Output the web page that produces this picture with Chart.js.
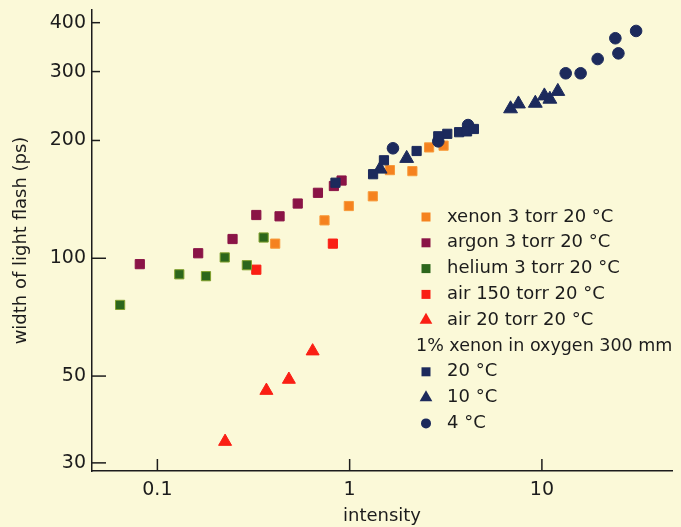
<!DOCTYPE html>
<html lang="en">
<head>
  <meta charset="UTF-8">
  <title>Width of light flash vs intensity</title>
  <style>
    body { margin: 0; background: #fbf9d8; }
    .wrap { width: 681px; height: 527px; background: #fbf9d8; }
  </style>
</head>
<body>
  <div class="wrap">
    <canvas id="myChart"></canvas>
  </div>

  <script src="https://cdn.jsdelivr.net/npm/chart.js@4.4.0/dist/chart.umd.min.js"></script>
  <script>
    // axis ticks
    const xTicks = [0.1, 1, 10];
    const yTicks = [30, 50, 100, 200, 300, 400];

    // series: intensity (x) and width of light flash in ps (y)
    const xenonX = [0.41, 0.74, 0.99, 1.32, 1.62, 2.12, 2.59, 3.08];
    const xenonY = [109, 125, 136, 144, 168, 167, 192, 194];

    const argonX = [0.081, 0.163, 0.246, 0.327, 0.432, 0.537, 0.684, 0.828, 0.908];
    const argonY = [96.6, 103, 112, 129, 128, 138, 147, 153, 158];

    const heliumX = [0.064, 0.130, 0.179, 0.224, 0.292, 0.357];
    const heliumY = [76, 91, 90, 100.5, 96, 113];

    const air150X = [0.327, 0.818];
    const air150Y = [93.5, 109];

    const air20X = [0.225, 0.369, 0.483, 0.642];
    const air20Y = [34.0, 45.9, 49.0, 57.9];

    const ox20X = [0.844, 1.324, 1.508, 2.23, 2.89, 3.22, 3.71, 4.08, 4.43];
    const ox20Y = [156, 164, 178, 188, 205, 208, 210, 211, 214];

    const ox10X = [1.44, 1.98, 6.87, 7.55, 9.24, 10.3, 11.0, 12.1];
    const ox10Y = [169, 180, 241, 248, 249, 260, 255, 267];

    const ox4X = [1.68, 2.89, 4.13, 13.3, 15.9, 19.5, 24.1, 25.0, 30.9];
    const ox4Y = [191, 199, 219, 297, 297, 323, 365, 334, 381];

    const legendHeader = '1% xenon in oxygen 300 mm';

    const pts = (xs, ys) => xs.map((x, i) => ({ x: x, y: ys[i] }));

    const FONT = '"DejaVu Sans", sans-serif';
    const INK = '#1c1c1c';

    function series(label, xs, ys, color, style, radius, order, border) {
      return {
        label: label,
        data: pts(xs, ys),
        backgroundColor: color,
        borderColor: border || color,
        borderWidth: 1,
        pointStyle: style,
        pointRadius: radius,
        pointHoverRadius: radius,
        order: order
      };
    }

    const datasets = [
      series('xenon 3 torr 20 °C', xenonX, xenonY, '#f5821f', 'rect', 6.5, 2, '#f79a3a'),
      series('argon 3 torr 20 °C', argonX, argonY, '#8a1446', 'rect', 6.5, 2),
      series('helium 3 torr 20 °C', heliumX, heliumY, '#2c661c', 'rect', 6.5, 2, '#7f9f2c'),
      series('air 150 torr 20 °C', air150X, air150Y, '#fa1f14', 'rect', 6.5, 2),
      series('air 20 torr 20 °C', air20X, air20Y, '#fa1f14', 'triangle', 7.5, 2),
      series('20 °C', ox20X, ox20Y, '#1c2a5c', 'rect', 6.5, 0),
      series('10 °C', ox10X, ox10Y, '#1c2a5c', 'triangle', 8, 0),
      series('4 °C', ox4X, ox4Y, '#1c2a5c', 'circle', 5.8, 0)
    ];

    // draws a marker in the same shape as the chart points
    function marker(ctx, style, color, x, y, size) {
      ctx.fillStyle = color;
      ctx.beginPath();
      if (style === 'rect') {
        ctx.rect(x - size / 2, y - size / 2, size, size);
      } else if (style === 'triangle') {
        const r = size / 1.5;
        ctx.moveTo(x, y - r);
        ctx.lineTo(x + r * 0.866, y + r / 2);
        ctx.lineTo(x - r * 0.866, y + r / 2);
        ctx.closePath();
      } else {
        ctx.arc(x, y, size / 2, 0, Math.PI * 2);
      }
      ctx.fill();
    }

    // inward tick marks + the legend block inside the plot
    const extras = {
      id: 'extras',
      afterDraw(chart) {
        const ctx = chart.ctx;
        const xs = chart.scales.x, ys = chart.scales.y;
        ctx.save();
        ctx.strokeStyle = INK;
        ctx.lineWidth = 1.5;
        xTicks.forEach(v => {
          const px = xs.getPixelForValue(v);
          ctx.beginPath();
          ctx.moveTo(px, xs.top);
          ctx.lineTo(px, xs.top - 12);
          ctx.stroke();
        });
        yTicks.forEach(v => {
          const py = ys.getPixelForValue(v);
          const len = v >= 200 ? 8 : 14;
          ctx.beginPath();
          ctx.moveTo(ys.right, py);
          ctx.lineTo(ys.right + len, py);
          ctx.stroke();
        });

        // legend
        const lx = 426, tx = 447, step = 25.8;
        let ly = 217;
        ctx.font = '18px ' + FONT;
        ctx.textBaseline = 'middle';
        ctx.fillStyle = INK;
        datasets.forEach((ds, i) => {
          if (i === 5) {
            ctx.fillStyle = INK;
            ctx.font = '17.5px ' + FONT;
            ctx.fillText(legendHeader, 416, ly);
            ctx.font = '18px ' + FONT;
            ly += step;
          }
          const sz = ds.pointStyle === 'rect' ? 9 : (ds.pointStyle === 'triangle' ? 11 : 10);
          marker(ctx, ds.pointStyle, ds.backgroundColor, lx, ly, sz);
          ctx.fillStyle = INK;
          ctx.fillText(ds.label, tx, ly);
          ly += step;
        });
        ctx.restore();
      }
    };

    const ctx = document.getElementById('myChart').getContext('2d');
    const myChart = new Chart(ctx, {
      type: 'scatter',
      data: { datasets: datasets },
      options: {
        responsive: true,
        maintainAspectRatio: false,
        animation: false,
        layout: { padding: { top: 10, right: 9, left: 0, bottom: 0 } },
        plugins: {
          legend: { display: false },
          tooltip: { enabled: false }
        },
        scales: {
          x: {
            type: 'logarithmic',
            min: 0.0457,
            max: 47.5,
            afterBuildTicks: s => { s.ticks = xTicks.map(v => ({ value: v })); },
            afterFit: s => { s.height = 56; s.paddingLeft = 0; s.paddingRight = 0; },
            grid: { display: true, drawOnChartArea: false, drawTicks: false },
            border: { display: true, color: INK, width: 1.5 },
            ticks: {
              autoSkip: false,
              maxRotation: 0,
              padding: 8,
              color: INK,
              font: { family: FONT, size: 19 },
              callback: v => String(v)
            },
            title: {
              display: true,
              text: 'intensity',
              color: INK,
              font: { family: FONT, size: 18 },
              padding: { top: 0, bottom: 0 }
            }
          },
          y: {
            type: 'logarithmic',
            min: 28.6,
            max: 431,
            afterBuildTicks: s => { s.ticks = yTicks.map(v => ({ value: v })); },
            afterFit: s => { s.width = 92; s.paddingTop = 0; s.paddingBottom = 0; },
            grid: { display: true, drawOnChartArea: false, drawTicks: false },
            border: { display: true, color: INK, width: 1.5 },
            ticks: {
              autoSkip: false,
              padding: 6,
              color: INK,
              font: { family: FONT, size: 19 },
              callback: v => String(v)
            },
            title: {
              display: true,
              text: 'width of light flash (ps)',
              color: INK,
              font: { family: FONT, size: 18 },
              padding: { top: 11, bottom: 0 }
            }
          }
        }
      },
      plugins: [extras]
    });
  </script>
</body>
</html>
